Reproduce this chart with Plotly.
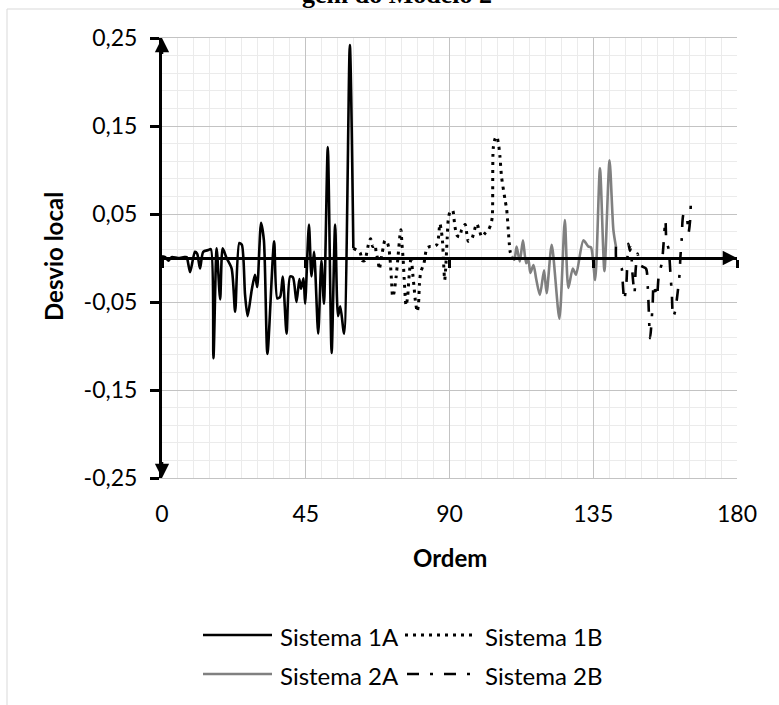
import plotly.graph_objects as go

# ---------------- data ----------------
series_names = ["Sistema 1A", "Sistema 1B", "Sistema 2A", "Sistema 2B"]

x_1a = [0, 1, 2, 3, 5, 7, 7.7, 8.8, 10.3, 11.0, 11.9, 12.9, 14.5, 15.3, 16.1, 17.1, 18.2, 19.0,
        20.2, 21.8, 22.9, 24.2, 25.0, 26.0, 26.8, 28.1, 29.1, 29.8, 31.0, 31.9, 33.0, 35.1, 36.1,
        37.0, 37.8, 39.0, 40.1, 41.0, 42.1, 43.0, 43.5, 44.3, 44.8, 46.0, 46.8, 47.6, 48.9, 49.9,
        50.7, 51.9, 53.1, 54.2, 55.1, 55.8, 57.0, 58.8, 59.9]
y_1a = [0.002, 0.001, -0.003, 0.001, 0.0, 0.001, 0.001, -0.016, 0.007, 0.005, -0.012, 0.007,
        0.009, 0.010, -0.114, 0.011, -0.047, 0.011, 0.0, -0.012, -0.061, 0.017, 0.015, -0.042,
        -0.066, -0.036, -0.019, -0.033, 0.040, 0.020, -0.109, 0.019, -0.046, -0.044, -0.021,
        -0.086, -0.021, -0.022, -0.050, -0.024, -0.035, -0.023, -0.052, 0.038, -0.021, 0.007,
        -0.086, -0.003, -0.052, 0.126, -0.108, 0.038, -0.066, -0.055, -0.086, 0.242, 0.011]

x_1b = [59.9, 62.0, 62.7, 63.5, 64.1, 64.6, 65.3, 66.0, 66.7, 67.0, 67.7, 68.0, 68.8, 69.3, 69.8,
        70.6, 71.1, 71.5, 71.9, 72.2, 72.6, 73.3, 73.8, 74.5, 74.8, 75.1, 75.5, 75.8, 76.4, 76.9,
        77.3, 78.0, 78.4, 78.9, 79.3, 79.9, 80.3, 80.6, 81.0, 82.0, 82.9, 83.9, 85.0, 86.0, 86.5,
        87.0, 87.4, 87.8, 88.1, 88.5, 88.8, 89.1, 89.3, 89.6, 90.2, 91.0, 91.4, 91.7, 92.3, 93.1,
        93.8, 94.9, 95.4, 95.9, 97.0, 98.5, 99.3, 100.1, 101.1, 102.2, 103.0, 103.4, 103.7, 104.3,
        104.8, 105.4, 105.8, 106.3, 107.4, 107.9, 108.4, 108.7, 109.0, 109.5]
y_1b = [0.011, 0.006, -0.003, -0.003, 0.006, 0.015, 0.022, 0.013, 0.015, 0.007, -0.004, -0.013,
        0.003, 0.013, 0.020, 0.017, 0.009, -0.006, -0.029, -0.044, -0.040, -0.021, -0.002, 0.026,
        0.032, 0.017, -0.002, -0.023, -0.054, -0.044, -0.023, 0.002, -0.014, -0.033, -0.048,
        -0.061, -0.052, -0.029, -0.016, -0.006, 0.011, 0.013, 0.013, 0.015, 0.022, 0.039, 0.032,
        0.020, -0.002, -0.025, -0.012, 0.010, 0.024, 0.043, 0.053, 0.054, 0.045, 0.036, 0.026,
        0.024, 0.032, 0.038, 0.028, 0.019, 0.022, 0.039, 0.032, 0.024, 0.028, 0.032, 0.039, 0.047,
        0.125, 0.136, 0.138, 0.128, 0.115, 0.092, 0.066, 0.055, 0.032, 0.017, 0.007, 0.002]

x_2a = [109.5, 110.3, 111.0, 112.0, 113.0, 114.0, 114.7, 115.3, 116.3, 117.1, 118.3, 119.6,
        120.4, 122.0, 124.4, 126.1, 127.2, 128.6, 129.6, 131.9, 133.5, 134.3, 135.6, 137.1,
        138.5, 140.1, 141.3, 142.1]
y_2a = [0.002, -0.002, 0.013, -0.004, 0.020, -0.006, -0.002, -0.017, -0.008, -0.023, -0.042,
        -0.014, -0.040, 0.015, -0.069, 0.043, -0.034, -0.012, -0.019, 0.020, 0.013, 0.012,
        -0.025, 0.102, -0.015, 0.111, 0.032, 0.013]

x_2b = [142.1, 142.3, 143.9, 144.2, 144.7, 145.4, 146.0, 146.5, 146.8, 147.2, 147.9, 148.3,
        148.9, 149.6, 151.5, 152.1, 152.8, 153.6, 153.9, 154.9, 155.5, 156.5, 157.6, 157.9,
        158.6, 159.2, 159.6, 160.0, 160.6, 161.4, 162.0, 162.3, 162.7, 163.3, 164.1, 164.8,
        165.3, 165.6]
y_2b = [0.013, -0.004, -0.012, -0.026, -0.048, -0.027, 0.016, 0.008, 0.012, -0.014, -0.040,
        -0.012, 0.005, -0.008, -0.012, -0.035, -0.091, -0.052, -0.030, -0.044, -0.020, -0.005,
        0.043, 0.019, 0.010, -0.020, -0.041, -0.067, -0.061, -0.040, -0.019, 0.002, 0.022,
        0.050, 0.050, 0.028, 0.042, 0.069]

x_tickvals = [0, 45, 90, 135, 180]
x_ticktext = ["0", "45", "90", "135", "180"]
y_tickvals = [-0.25, -0.15, -0.05, 0.05, 0.15, 0.25]
y_ticktext = ["-0,25", "-0,15", "-0,05", "0,05", "0,15", "0,25"]

title_text = "gem do Modelo 2"
x_title = "Ordem"
y_title = "Desvio local"

# ---------------- styles ----------------
FONT = "Lato"
styles = [
    dict(color="#000000", width=2.6, dash="solid"),
    dict(color="#000000", width=3, dash="3px,5px"),
    dict(color="#808080", width=2.6, dash="solid"),
    dict(color="#000000", width=2.6, dash="12px,11px,3px,11px"),
]
xs = [x_1a, x_1b, x_2a, x_2b]
ys = [y_1a, y_1b, y_2a, y_2b]

fig = go.Figure()
for name, xv, yv, st in zip(series_names, xs, ys, styles):
    fig.add_trace(go.Scatter(x=xv, y=yv, mode="lines", name=name, xaxis="x2", yaxis="y",
                             line=dict(color=st["color"], width=st["width"], dash=st["dash"],
                                       shape="spline", smoothing=0.7),
                             showlegend=False, hoverinfo="skip"))

W, H = 779, 705
ML, MR, MT, MB = 162, 42, 38, 227
PW, PH = W - ML - MR, H - MT - MB


def px_x(px):
    return (px - ML) / PW


def px_y(py):
    return (H - MB - py) / PH


fig.update_layout(
    width=W, height=H,
    margin=dict(l=ML, r=MR, t=MT, b=MB, pad=0),
    paper_bgcolor="white", plot_bgcolor="white",
    font=dict(family=FONT, size=23, color="#000000"),
    xaxis=dict(range=[0, 180], tickvals=x_tickvals, ticktext=x_ticktext,
               showgrid=True, gridcolor="#c3c3c3", gridwidth=1,
               minor=dict(dtick=5, tick0=0, showgrid=True, gridcolor="#ebebeb", gridwidth=1),
               ticks="", ticklabelstandoff=15, zeroline=False,
               showline=True, linecolor="#c3c3c3", linewidth=1, mirror=True,
               tickfont=dict(family=FONT, size=23)),
    xaxis2=dict(range=[0, 180], overlaying="x", anchor="free", position=0.5, side="bottom",
                tickvals=x_tickvals, showticklabels=False, ticks="outside", ticklen=8,
                tickwidth=2.5, tickcolor="black", showline=True, linecolor="black",
                linewidth=3, showgrid=False, zeroline=False, layer="above traces"),
    yaxis=dict(range=[-0.25, 0.25], tickvals=y_tickvals, ticktext=y_ticktext,
               showgrid=True, gridcolor="#c3c3c3", gridwidth=1,
               minor=dict(dtick=0.02, tick0=-0.25, showgrid=True, gridcolor="#ebebeb", gridwidth=1),
               ticks="outside", ticklen=9, tickwidth=2.5, tickcolor="black",
               ticklabelstandoff=8, zeroline=False,
               showline=True, linecolor="black", linewidth=3, layer="above traces",
               tickfont=dict(family=FONT, size=23)),
)

# axis arrows
arrow = dict(showarrow=True, arrowhead=2, arrowsize=1.1, arrowwidth=2.6, arrowcolor="black",
             text="", axref="x", ayref="y", xref="x", yref="y", standoff=0)
fig.add_annotation(x=180, y=0, ax=175, ay=0, **arrow)
fig.add_annotation(x=0, y=0.25, ax=0, ay=0.23, **arrow)
fig.add_annotation(x=0, y=-0.25, ax=0, ay=-0.23, **arrow)

# titles
fig.add_annotation(text=f"<b>{title_text}</b>", xref="paper", yref="paper",
                   x=px_x(397), y=px_y(11), xanchor="center", yanchor="bottom", showarrow=False,
                   font=dict(family="Liberation Serif", size=26, color="black"))
fig.add_annotation(text=f"<b>{x_title}</b>", xref="paper", yref="paper",
                   x=0.5, y=px_y(557), xanchor="center", yanchor="middle", showarrow=False,
                   font=dict(family=FONT, size=24))
fig.add_annotation(text=f"<b>{y_title}</b>", xref="paper", yref="paper", textangle=-90,
                   x=px_x(53), y=px_y(257), xanchor="center", yanchor="middle", showarrow=False,
                   font=dict(family=FONT, size=24))

# chart outer border
fig.add_shape(type="rect", xref="paper", yref="paper", x0=px_x(7), x1=px_x(800),
              y0=px_y(730), y1=px_y(9), line=dict(color="#d9d9d9", width=1), layer="below")

# legend (manual, two rows x two columns): (sample start, sample end, text start, row y)
legend_pos = [(203, 272, 278, 635), (405, 475, 483, 635),
              (203, 272, 278, 674), (407, 470, 483, 674)]
for name, st, (sx0, sx1, tx, ly) in zip(series_names, styles, legend_pos):
    fig.add_shape(type="line", xref="paper", yref="paper",
                  x0=px_x(sx0), x1=px_x(sx1), y0=px_y(ly), y1=px_y(ly),
                  line=dict(color=st["color"], width=st["width"], dash=st["dash"]))
    fig.add_annotation(text=name, xref="paper", yref="paper", x=px_x(tx), y=px_y(ly + 1),
                       xanchor="left", yanchor="middle", showarrow=False,
                       font=dict(family=FONT, size=24))

fig.write_html("out.html")
